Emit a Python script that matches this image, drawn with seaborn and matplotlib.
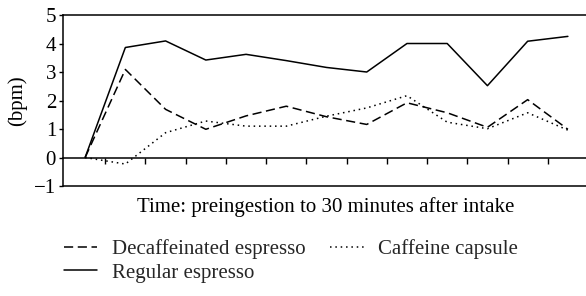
import pandas as pd
import matplotlib.pyplot as plt
import seaborn as sns

time_points = list(range(13))
regular = [0, 3.86, 4.09, 3.42, 3.62, 3.40, 3.16, 3.00, 4.00, 4.00, 2.52, 4.08, 4.25]
decaf = [0, 3.09, 1.69, 0.99, 1.46, 1.80, 1.43, 1.16, 1.92, 1.57, 1.06, 2.03, 0.99]
capsule = [0, -0.23, 0.87, 1.28, 1.10, 1.10, 1.45, 1.74, 2.17, 1.24, 1.01, 1.57, 0.96]

df = pd.concat([
    pd.DataFrame({'t': time_points, 'bpm': decaf, 'drink': 'Decaffeinated espresso'}),
    pd.DataFrame({'t': time_points, 'bpm': regular, 'drink': 'Regular espresso'}),
    pd.DataFrame({'t': time_points, 'bpm': capsule, 'drink': 'Caffeine capsule'}),
])

sns.set_style('ticks')
plt.rcParams['font.family'] = ['Liberation Serif', 'DejaVu Serif']
plt.rcParams['font.size'] = 15

fig = plt.figure(figsize=(5.86, 2.96), dpi=100)
ax = fig.add_axes([0.1075, 0.3716, 0.8925, 0.5777])

sns.lineplot(data=df, x='t', y='bpm', hue='drink', style='drink',
             palette=['black'] * 3,
             dashes={'Decaffeinated espresso': (6, 3),
                     'Regular espresso': '',
                     'Caffeine capsule': (1, 2.5)},
             linewidth=1.1, ax=ax, legend=True)

ax.set_xlim(-0.55, 12.45)
ax.set_ylim(-1, 5)
ax.set_yticks(range(-1, 6))
ax.set_yticklabels(['\u22121', '0', '1', '2', '3', '4', '5'])
ax.set_xticks([i + 0.5 for i in range(12)])
ax.set_xticklabels([])
ax.spines['bottom'].set_position(('data', 0))
ax.spines['right'].set_visible(False)
ax.axhline(-1, color='black', lw=1.1, clip_on=False)
for s in ['left', 'top', 'bottom']:
    ax.spines[s].set_linewidth(1.1)
    ax.spines[s].set_color('black')
ax.tick_params(axis='x', direction='out', length=4, width=1, color='black')
ax.tick_params(axis='y', direction='out', length=3, width=1, color='black', pad=2,
               labelsize=15, labelcolor='black')
ax.set_ylabel('(bpm)', labelpad=5, color='black')
ax.set_xlabel('')
fig.text(0.555, 0.30, 'Time: preingestion to 30 minutes after intake',
         ha='center', va='center', fontsize=15, color='black')

handles, labels = ax.get_legend_handles_labels()
ax.get_legend().remove()
order = [labels.index(n) for n in ['Decaffeinated espresso', 'Regular espresso', 'Caffeine capsule']]
fig.legend([handles[i] for i in order], [labels[i] for i in order],
           ncol=2, loc='upper left', bbox_to_anchor=(0.091, 0.228),
           frameon=False, handlelength=1.6, handletextpad=0.7,
           columnspacing=1.2, labelspacing=0.2, fontsize=15, borderpad=0)

fig.savefig('out.png', dpi=100)
